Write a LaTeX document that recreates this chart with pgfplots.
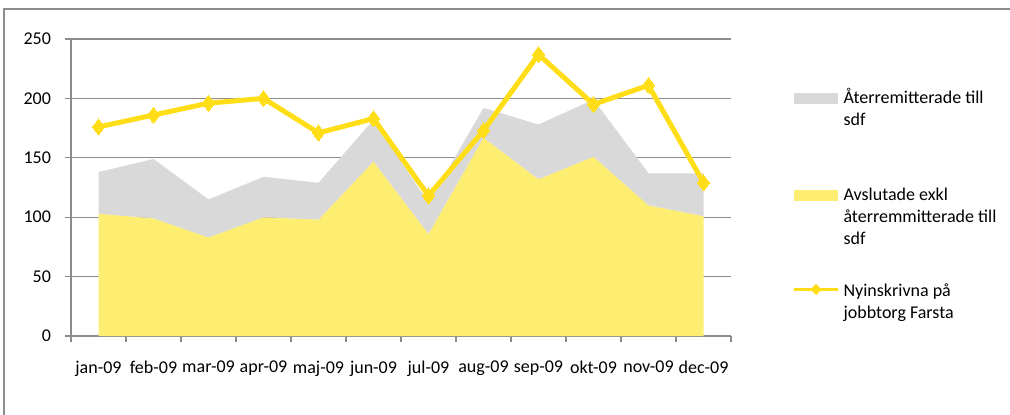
\documentclass[border=0pt]{standalone}
\usepackage{fontspec}
\setmainfont{Carlito}
\usepackage{pgfplots}
\pgfplotsset{compat=1.18}
\definecolor{lineyellow}{HTML}{FFDD17}
\definecolor{areayellow}{HTML}{FDED70}
\definecolor{areagray}{HTML}{D9D9D9}
\definecolor{gridgray}{HTML}{8C8C8C}
\newcommand{\legtext}[1]{\begin{tabular}[t]{@{}l@{}}#1\end{tabular}}
\begin{document}
\begin{tikzpicture}
\begin{axis}[
  scale only axis,
  width=330pt, height=148.5pt,
  xmin=-0.5, xmax=11.5, ymin=0, ymax=250,
  axis x line*=bottom, axis y line*=left,
  axis line style={gridgray, line width=0.6pt, -},
  ytick={0,50,...,250},
  ymajorgrids, major grid style={gridgray, line width=0.6pt},
  xtick={0,...,11},
  xticklabels={jan-09,feb-09,mar-09,apr-09,maj-09,jun-09,jul-09,aug-09,sep-09,okt-09,nov-09,dec-09},
  minor xtick={-0.5,0.5,...,11.5},
  tick align=outside,
  major tick length=3pt, minor tick length=3pt,
  major x tick style={draw=none},
  every tick/.style={gridgray, line width=0.6pt},
  minor tick style={gridgray, line width=0.6pt},
  ytick style={gridgray, line width=0.6pt},
  /pgf/number format/assume math mode=true,
  tick label style={font=\fontsize{9}{11}\selectfont},
  yticklabel style={xshift=-3.5pt},
  xticklabel style={yshift=-6pt},
  legend style={draw=none, fill=none, at={(1.0926,0.835)}, anchor=north west,
    font=\fontsize{9}{11}\selectfont, row sep=39pt, column sep=2pt,
    inner sep=0pt, nodes={inner sep=0pt}},
  legend cell align=left,
]
\addlegendimage{legend image code/.code={\fill[areagray] (0pt,-3pt) rectangle (21.5pt,2pt);}}
\addlegendentry{\legtext{Återremitterade till\\sdf}}
\addlegendimage{legend image code/.code={\fill[areayellow] (0pt,-3pt) rectangle (21.5pt,2pt);}}
\addlegendentry{\legtext{Avslutade exkl\\återremmitterade till\\sdf}}
\addlegendimage{legend image code/.code={\draw[lineyellow, line width=1.5pt] (0pt,0.5pt) -- (22pt,0.5pt);
  \fill[lineyellow] (11pt,-2pt) -- (13.5pt,0.5pt) -- (11pt,3pt) -- (8.5pt,0.5pt) -- cycle;}}
\addlegendentry{\legtext{Nyinskrivna på\\jobbtorg Farsta}}
% Avslutade exkl återremitterade (bottom)
\addplot[stack plots=y, fill=areayellow, draw=none, forget plot] coordinates {
 (0,103) (1,99) (2,83) (3,100) (4,98) (5,147) (6,86) (7,167) (8,132) (9,151) (10,110) (11,101)} \closedcycle;
% Återremitterade till sdf (stacked on top)
\addplot[stack plots=y, fill=areagray, draw=none, forget plot] coordinates {
 (0,35) (1,50) (2,32) (3,34) (4,31) (5,35) (6,26) (7,25) (8,46) (9,48) (10,27) (11,36)} \closedcycle;
% Nyinskrivna
\addplot[stack plots=false, lineyellow, line width=2.5pt, mark=diamond*, mark size=4pt,
  mark options={fill=lineyellow, draw=lineyellow, line width=0pt}, forget plot] coordinates {
 (0,176) (1,186) (2,196) (3,200) (4,171) (5,183) (6,118) (7,173) (8,237) (9,195) (10,211) (11,129)};
\end{axis}
\draw[gridgray, line width=0.75pt] (-33.5pt,-45pt) -- (-33.5pt,163.5pt) -- (475pt,163.5pt);
\pgfresetboundingbox
\useasboundingbox (-35.5pt,-39pt) rectangle (469.5pt,168pt);
\end{tikzpicture}
\end{document}
